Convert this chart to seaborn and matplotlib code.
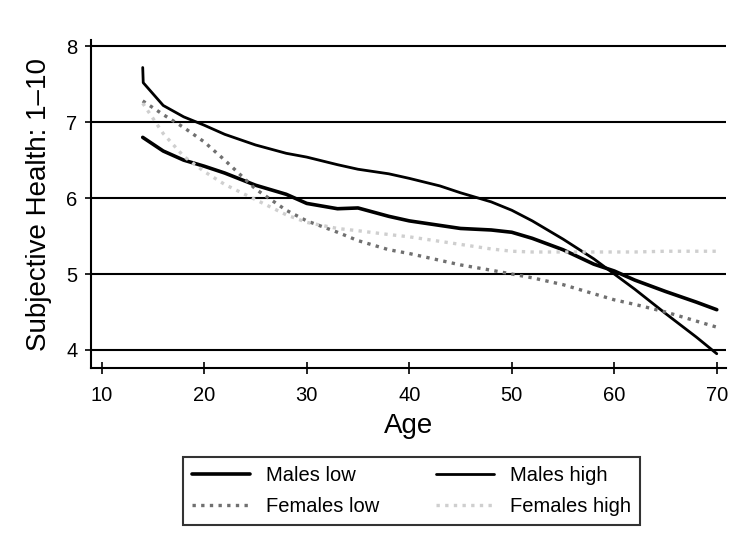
"""Subjective health by age, males/females low and high."""
import matplotlib
matplotlib.use("Agg")
import matplotlib.pyplot as plt
import pandas as pd
import seaborn as sns

AGES = [14, 16, 18, 20, 22, 25, 28, 30, 33, 35, 38, 40, 43, 45, 48, 50,
        52, 55, 58, 60, 62, 65, 68, 70]

MALES_HIGH_AGES = [14, 14.05] + AGES[1:]
MALES_HIGH = [7.72, 7.52, 7.22, 7.07, 6.96, 6.84, 6.7, 6.59, 6.54, 6.44, 6.38,
              6.32, 6.26, 6.16, 6.07, 5.95, 5.84, 5.7, 5.46, 5.2, 5.0, 4.8,
              4.48, 4.17, 3.95]
MALES_LOW = [6.8, 6.62, 6.5, 6.42, 6.33, 6.17, 6.05, 5.93, 5.86, 5.87, 5.76,
             5.7, 5.64, 5.6, 5.58, 5.55, 5.47, 5.32, 5.13, 5.04, 4.92, 4.77,
             4.63, 4.53]
FEMALES_LOW = [7.28, 7.1, 6.93, 6.74, 6.5, 6.12, 5.84, 5.7, 5.55, 5.44, 5.32,
               5.27, 5.18, 5.12, 5.05, 5.0, 4.95, 4.86, 4.74, 4.66, 4.6, 4.5,
               4.38, 4.3]
FEMALES_HIGH = [7.25, 6.85, 6.55, 6.35, 6.18, 5.98, 5.78, 5.68, 5.6, 5.57,
                5.52, 5.49, 5.43, 5.39, 5.33, 5.3, 5.29, 5.29, 5.29, 5.29,
                5.29, 5.3, 5.3, 5.3]

SERIES = {
    "Males low": (AGES, MALES_LOW, dict(color="black", lw=2.6, ls="-")),
    "Males high": (MALES_HIGH_AGES, MALES_HIGH, dict(color="black", lw=2.0, ls="-")),
    "Females low": (AGES, FEMALES_LOW, dict(color="#707070", lw=2.4, ls=(0, (1, 1.6)))),
    "Females high": (AGES, FEMALES_HIGH, dict(color="#cfcfcf", lw=2.4, ls=(0, (1, 1.6)))),
}
LEGEND_ORDER = ["Males low", "Females low", "Males high", "Females high"]


def main():
    sns.set_style("ticks")
    plt.rcParams["font.family"] = ["Liberation Sans", "DejaVu Sans"]
    plt.rcParams["text.color"] = "black"
    plt.rcParams["axes.labelcolor"] = "black"
    fig = plt.figure(figsize=(7.5, 5.43), dpi=100)
    ax = fig.add_axes([0.121, 0.322, 0.847, 0.604])

    for name, (ages, vals, st) in SERIES.items():
        df = pd.DataFrame({"age": ages, "health": vals})
        sns.lineplot(data=df, x="age", y="health", ax=ax, sort=False,
                     label=name, color=st["color"], linewidth=st["lw"],
                     linestyle=st["ls"])

    ax.set_xlim(8.93, 70.9)
    ax.set_ylim(3.76, 8.08)
    ax.set_xticks([10, 20, 30, 40, 50, 60, 70])
    ax.set_yticks([4, 5, 6, 7, 8])
    for y in [4, 5, 6, 7, 8]:
        ax.axhline(y, color="black", lw=1.5, zorder=0)
    ax.tick_params(axis="both", direction="inout", length=9, width=1.2,
                   labelsize=14.5, colors="black")
    ax.tick_params(axis="x", pad=8)
    ax.tick_params(axis="y", pad=5)
    sns.despine(ax=ax)
    for s in ["left", "bottom"]:
        ax.spines[s].set_linewidth(1.5)
        ax.spines[s].set_color("black")
    ax.set_xlabel("Age", fontsize=20, labelpad=6)
    ax.set_ylabel("Subjective Health: 1\u201310", fontsize=20, labelpad=10)

    handles, labels = ax.get_legend_handles_labels()
    lookup = dict(zip(labels, handles))
    leg = ax.legend([lookup[n] for n in LEGEND_ORDER], LEGEND_ORDER,
                    loc="upper center", bbox_to_anchor=(0.505, -0.24), ncol=2,
                    frameon=True, fancybox=False, edgecolor="black",
                    fontsize=14.5, handlelength=2.9, handletextpad=0.8,
                    columnspacing=2.8, borderpad=0.45, labelspacing=0.6)
    leg.get_frame().set_linewidth(1.5)

    fig.savefig("out.png", dpi=100, facecolor="white")


if __name__ == "__main__":
    main()
